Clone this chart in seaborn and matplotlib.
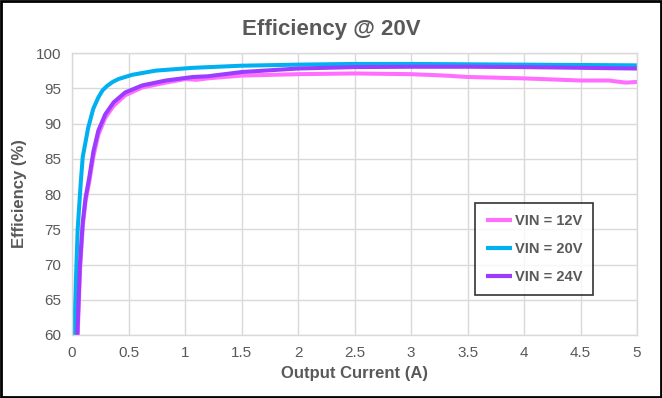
import matplotlib
matplotlib.use("Agg")
import matplotlib.pyplot as plt
import seaborn as sns
import pandas as pd
from matplotlib.patches import Rectangle
from matplotlib.ticker import FuncFormatter

# Data
x_12 = [0.05, 0.07, 0.095, 0.12, 0.15, 0.19, 0.233, 0.294, 0.368, 0.47, 0.62, 0.83, 1.0, 1.1, 1.2, 1.5,
        2.0, 2.5, 3.0, 3.3, 3.5, 4.0, 4.5, 4.75, 4.9, 5.0]
y_12 = [60, 69, 75.5, 79, 81.5, 85.4, 88.4, 90.8, 92.5, 94.0, 95.1, 95.8, 96.3, 96.2, 96.4, 96.8,
        97.0, 97.1, 97.0, 96.8, 96.6, 96.4, 96.1, 96.1, 95.8, 95.9]
x_20 = [0.02, 0.035, 0.05, 0.078, 0.095, 0.107, 0.143, 0.188, 0.233, 0.27, 0.308, 0.36, 0.41, 0.53, 0.74, 1.07,
        1.5, 2.0, 2.5, 3.0, 3.5, 4.0, 4.5, 5.0]
y_20 = [60, 68, 75, 81.8, 85.3, 86.3, 89.4, 92.1, 93.7, 94.7, 95.3, 95.9, 96.3, 96.9, 97.5, 97.9,
        98.2, 98.35, 98.45, 98.45, 98.4, 98.35, 98.3, 98.25]
x_24 = [0.047, 0.07, 0.095, 0.12, 0.15, 0.19, 0.233, 0.294, 0.368, 0.47, 0.62, 0.83, 1.07, 1.2,
        1.5, 2.0, 2.5, 3.0, 3.5, 4.0, 4.5, 5.0]
y_24 = [60, 70, 76, 79.5, 82.1, 86.1, 89.0, 91.3, 93.0, 94.4, 95.4, 96.1, 96.6, 96.7,
        97.3, 97.8, 98.0, 98.05, 98.05, 98.0, 97.9, 97.8]
series_names = ["VIN = 12V", "VIN = 20V", "VIN = 24V"]
colors = ["#FF6EFF", "#00B0F0", "#9B3CFF"]
x_ticks = [0, 0.5, 1, 1.5, 2, 2.5, 3, 3.5, 4, 4.5, 5]
y_ticks = [60, 65, 70, 75, 80, 85, 90, 95, 100]

frames = []
for name, xs, ys in zip(series_names, [x_12, x_20, x_24], [y_12, y_20, y_24]):
    frames.append(pd.DataFrame({"x": xs, "y": ys, "series": name}))
df = pd.concat(frames, ignore_index=True)

sns.set_theme(style="white")
plt.rcParams['font.family'] = ['Liberation Sans Narrow', 'Liberation Sans', 'DejaVu Sans']
gray = "#595959"

fig = plt.figure(figsize=(6.62, 3.98), dpi=100)
ax = fig.add_axes([0.1088, 0.1583, 0.8535, 0.7085])

sns.lineplot(data=df, x="x", y="y", hue="series", hue_order=series_names,
             palette=colors, sort=False, estimator=None, linewidth=2.9, ax=ax)
for ln in ax.get_lines():
    ln.set_solid_joinstyle("round")
    ln.set_solid_capstyle("butt")

ax.set_xlim(0, 5)
ax.set_ylim(60, 100)
ax.set_xticks(x_ticks)
ax.set_yticks(y_ticks)
ax.xaxis.set_major_formatter(FuncFormatter(lambda v, p: f"{v:g}"))
ax.grid(True, color="#d9d9d9", linewidth=1)
ax.set_axisbelow(True)
for s in ax.spines.values():
    s.set_visible(True)
    s.set_color("#d9d9d9")
    s.set_linewidth(1)
ax.tick_params(axis="both", length=0, labelsize=11, colors=gray, pad=8)

ax.set_xlabel("Output Current (A)", fontsize=12, fontweight="bold", color=gray, labelpad=4)
ax.set_ylabel("Efficiency (%)", fontsize=12, fontweight="bold", color=gray, labelpad=6)
fig.text(0.5, 0.925, "Efficiency @ 20V", ha="center", va="center",
         fontsize=16, fontweight="bold", color=gray)

leg = ax.legend(loc="upper left", bbox_to_anchor=(0.713, 0.468), frameon=True,
                fancybox=False, handlelength=1.8, handletextpad=0.2,
                labelspacing=0.95, borderpad=0.75, fontsize=10.5, borderaxespad=0)
leg.get_frame().set_edgecolor("black")
leg.get_frame().set_linewidth(1.2)
for t in leg.get_texts():
    t.set_color(gray)
    t.set_fontweight("bold")
for l in leg.get_lines():
    l.set_linewidth(3)

fig.patches.append(Rectangle((0.002, 0.003), 0.996, 0.994, transform=fig.transFigure,
                             fill=False, edgecolor="black", linewidth=2))

fig.savefig("out.png", dpi=100)
